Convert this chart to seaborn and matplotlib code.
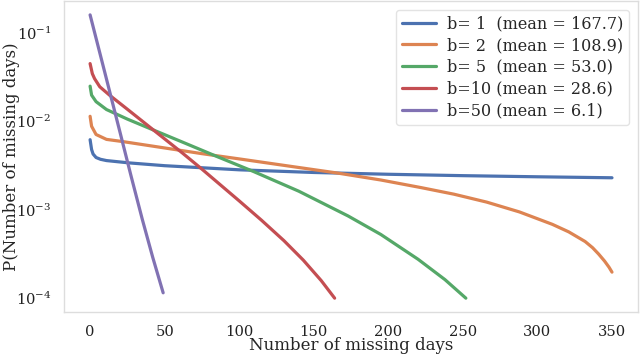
import numpy as np
import pandas as pd
import matplotlib
matplotlib.use("Agg")
import matplotlib.pyplot as plt
import seaborn as sns

# values (days, probability)
b1_days = [0, 1, 2, 4, 7, 11, 26, 50, 100, 150, 200, 250, 300, 350]
b1_prob = [6.2e-3, 4.8e-3, 4.27e-3, 3.9e-3, 3.72e-3, 3.6e-3, 3.39e-3, 3.15e-3, 2.83e-3, 2.64e-3,
           2.52e-3, 2.43e-3, 2.36e-3, 2.3e-3]

b2_days = [0, 1, 4, 11, 22, 50, 75, 100, 135, 166, 195, 222, 244, 266, 288, 310, 321, 332,
           337, 341, 345, 348, 350]
b2_prob = [1.14e-2, 8.8e-3, 7.1e-3, 6.25e-3, 5.9e-3, 5.0e-3, 4.31e-3, 3.76e-3, 3.09e-3, 2.6e-3,
           2.17e-3, 1.78e-3, 1.5e-3, 1.22e-3, 9.44e-4, 6.84e-4, 5.62e-4, 4.37e-4,
           3.72e-4, 3.16e-4, 2.63e-4, 2.24e-4, 1.97e-4]

b5_days = [0, 1, 4, 11, 25, 42, 62, 84, 110, 140, 173, 195, 220, 238, 252]
b5_prob = [2.5e-2, 1.98e-2, 1.67e-2, 1.36e-2, 1.06e-2, 8.04e-3, 5.82e-3, 4.07e-3, 2.69e-3,
           1.62e-3, 8.51e-4, 5.25e-4, 2.75e-4, 1.62e-4, 1.0e-4]

b10_days = [0, 1.5, 3, 6.5, 13, 25, 42, 62, 75, 100, 115, 130, 143, 155, 164]
b10_prob = [4.5e-2, 3.46e-2, 3.04e-2, 2.46e-2, 1.98e-2, 1.37e-2, 8.1e-3, 4.37e-3, 2.88e-3,
            1.26e-3, 7.6e-4, 4.47e-4, 2.69e-4, 1.58e-4, 1.0e-4]

b50_days = [0, 10, 20, 27.5, 35, 42, 49]
b50_prob = [0.16, 3.5e-2, 7.6e-3, 2.4e-3, 7.8e-4, 2.9e-4, 1.15e-4]

labels = ["b= 1  (mean = 167.7)", "b= 2  (mean = 108.9)", "b= 5  (mean = 53.0)",
          "b=10 (mean = 28.6)", "b=50 (mean = 6.1)"]

series = [(b1_days, b1_prob), (b2_days, b2_prob), (b5_days, b5_prob),
          (b10_days, b10_prob), (b50_days, b50_prob)]
frames = []
for lab, (d, p) in zip(labels, series):
    frames.append(pd.DataFrame({"days": d, "prob": p, "b": lab}))
df = pd.concat(frames, ignore_index=True)

sns.set_theme(style="white", palette="deep")
plt.rcParams['font.family'] = ['DejaVu Serif']
plt.rcParams['mathtext.fontset'] = 'dejavuserif'

fig, ax = plt.subplots(figsize=(6.4, 3.59), dpi=100)
fig.subplots_adjust(left=0.1, right=0.997, bottom=0.13, top=0.998)

sns.lineplot(data=df, x="days", y="prob", hue="b", linewidth=2.3, ax=ax, sort=False)
ax.set_yscale("log")

for s in ax.spines.values():
    s.set_color("#dddddd")
    s.set_linewidth(1.0)

ax.set_xticks([0, 50, 100, 150, 200, 250, 300, 350])
ax.tick_params(labelsize=10.6, colors="#222222", pad=3)
ax.set_xlabel("Number of missing days", fontsize=12)
ax.set_ylabel("P(Number of missing days)", fontsize=12)
ax.xaxis.set_label_coords(0.5, -0.08)
ax.yaxis.set_label_coords(-0.0775, 0.5)

leg = ax.legend(loc="upper right", fontsize=11.5, handlelength=2.15, handletextpad=0.7,
                frameon=True, borderaxespad=0.55, borderpad=0.35, labelspacing=0.3)
leg.get_frame().set_edgecolor("#dddddd")
leg.get_frame().set_linewidth(1.0)
for line in leg.get_lines():
    line.set_linewidth(2.3)

fig.savefig("out.png", dpi=100)
